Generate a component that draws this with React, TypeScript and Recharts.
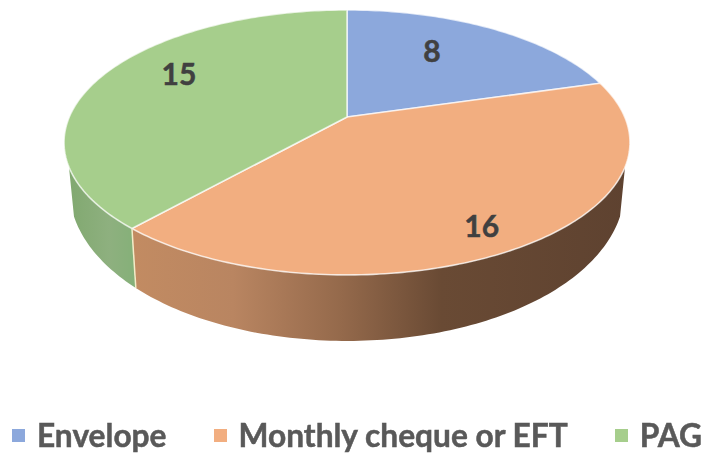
import React from "react";
import { PieChart, Pie, Cell, Legend } from "recharts";

const categories = ["Envelope", "Monthly cheque or EFT", "PAG"];
const values = [8, 16, 15];
const tableData = categories.map((name, i) => ({ name, value: values[i] }));

const TOP_COLORS = ["#8ca8dc", "#f2ae80", "#a6ce8c"];
const FONT = "Lato, Carlito, 'Open Sans', sans-serif";

// Perspective of the tilted disc
const K = -0.192;
const Y_RATIO = 127.6 / 277.7;
const WALL_BASE = 40;
const WALL_GROW = 26;
const WALL_SHRINK = 0.982;
const FRONT_FROM = 111.4; // degrees clockwise from 12 o'clock
const FRONT_TO = 248.6;

// Where each value label sits on the disc
const LABEL_RADIUS = [0.667, 0.846, 0.74];
const LABEL_TWIST = [-6.3, 2.8, 8.3];

const rad = (d: number) => (d * Math.PI) / 180;

function project(cx: number, cy: number, R: number, theta: number, r = 1) {
  const u = r * Math.sin(rad(theta));
  const v = -r * Math.cos(rad(theta));
  const w = 1 + K * v;
  return { x: cx + (R * u) / w, y: cy + (R * Y_RATIO * v) / w, v };
}

function lower(cx: number, p: { x: number; y: number; v: number }) {
  return { x: cx + (p.x - cx) * WALL_SHRINK, y: p.y + WALL_BASE + WALL_GROW * p.v };
}

const pts = (list: { x: number; y: number }[]) =>
  list.map((p, i) => `${i ? "L" : "M"}${p.x.toFixed(2)} ${p.y.toFixed(2)}`).join(" ");

function arc(a: number, b: number) {
  const out: number[] = [];
  const n = Math.max(2, Math.ceil(Math.abs(b - a)));
  for (let i = 0; i <= n; i++) out.push(a + ((b - a) * i) / n);
  return out;
}

function WallGradients() {
  return (
    <defs>
      <linearGradient id="wallOrange" gradientUnits="userSpaceOnUse" x1="134" y1="0" x2="630" y2="0">
        <stop offset="0" stopColor="#c28b62" />
        <stop offset="0.2" stopColor="#b98561" />
        <stop offset="0.42" stopColor="#94694b" />
        <stop offset="0.62" stopColor="#694a34" />
        <stop offset="1" stopColor="#5e4230" />
      </linearGradient>
      <linearGradient id="wallGreen" gradientUnits="userSpaceOnUse" x1="66" y1="0" x2="138" y2="0">
        <stop offset="0" stopColor="#80a86f" />
        <stop offset="0.6" stopColor="#8eb07f" />
        <stop offset="1" stopColor="#84b078" />
      </linearGradient>
    </defs>
  );
}

function DiscSlice(props: any) {
  const { cx, cy, outerRadius: R, startAngle, endAngle, fill, index, name } = props;
  const idx = index ?? categories.indexOf(name);
  const a = 90 - startAngle;
  const b = 90 - endAngle;
  const rim = arc(a, b).map((t) => project(cx, cy, R, t));
  const from = Math.max(a, FRONT_FROM);
  const to = Math.min(b, FRONT_TO);
  let wall = null;
  if (to > from) {
    const top = arc(from, to).map((t) => project(cx, cy, R, t));
    const bottom = top.map((p) => lower(cx, p)).reverse();
    wall = (
      <path
        d={pts([...top, ...bottom]) + " Z"}
        fill={idx === 1 ? "url(#wallOrange)" : "url(#wallGreen)"}
        stroke="none"
      />
    );
  }
  return (
    <g>
      <WallGradients />
      {wall}
      {idx === 2 ? (
        <path
          d={pts([project(cx, cy, R, a), lower(cx, project(cx, cy, R, a))])}
          stroke="#f3ecc8"
          strokeWidth={1.5}
          fill="none"
        />
      ) : null}
      <path
        d={pts([{ x: cx, y: cy }, ...rim]) + " Z"}
        fill={fill}
        stroke="#ffffff"
        strokeOpacity={0.7}
        strokeWidth={1.6}
        strokeLinejoin="round"
      />
    </g>
  );
}

function ValueLabel(props: any) {
  const { cx, cy, outerRadius: R, midAngle, index, value } = props;
  const p = project(cx, cy, R, 90 - midAngle + LABEL_TWIST[index], LABEL_RADIUS[index]);
  return (
    <text
      x={p.x}
      y={p.y - 1.5}
      textAnchor="middle"
      dominantBaseline="central"
      fontFamily={FONT}
      fontWeight={700}
      fontSize={30}
      fill="#404040"
      stroke="#404040"
      strokeWidth={0.5}
    >
      {value}
    </text>
  );
}

function LegendRow({ payload }: any) {
  const gaps = [47, 47, 0];
  return (
    <div
      style={{
        display: "flex",
        alignItems: "center",
        fontFamily: FONT,
        fontWeight: 700,
        fontSize: 31.7,
        color: "#595959",
        whiteSpace: "nowrap",
        WebkitTextStroke: "0.5px #595959",
      }}
    >
      {(payload || []).map((item: any, i: number) => (
        <div key={item.value} style={{ display: "flex", alignItems: "center", marginRight: gaps[i] }}>
          <span style={{ width: 13, height: 13, background: TOP_COLORS[i], marginRight: 12, display: "inline-block" }} />
          <span>{item.value}</span>
        </div>
      ))}
    </div>
  );
}

export default function App() {
  return (
    <div style={{ position: "absolute", left: 0, top: 0, width: 702, height: 456, background: "#fff", filter: "blur(0.4px)" }}>
      <PieChart width={702} height={456} margin={{ top: 0, right: 0, bottom: 0, left: 0 }}>
        <Pie
          data={tableData}
          dataKey="value"
          nameKey="name"
          cx={347}
          cy={117}
          outerRadius={277.7}
          startAngle={90}
          endAngle={-270}
          isAnimationActive={false}
          shape={DiscSlice}
          label={ValueLabel}
          labelLine={false}
        >
          {tableData.map((d, i) => (
            <Cell key={d.name} fill={TOP_COLORS[i]} />
          ))}
        </Pie>
        <Legend
          content={<LegendRow />}
          layout="horizontal"
          align="left"
          verticalAlign="bottom"
          wrapperStyle={{ left: 12, bottom: -4, width: 690, height: 44 }}
        />
      </PieChart>
    </div>
  );
}
